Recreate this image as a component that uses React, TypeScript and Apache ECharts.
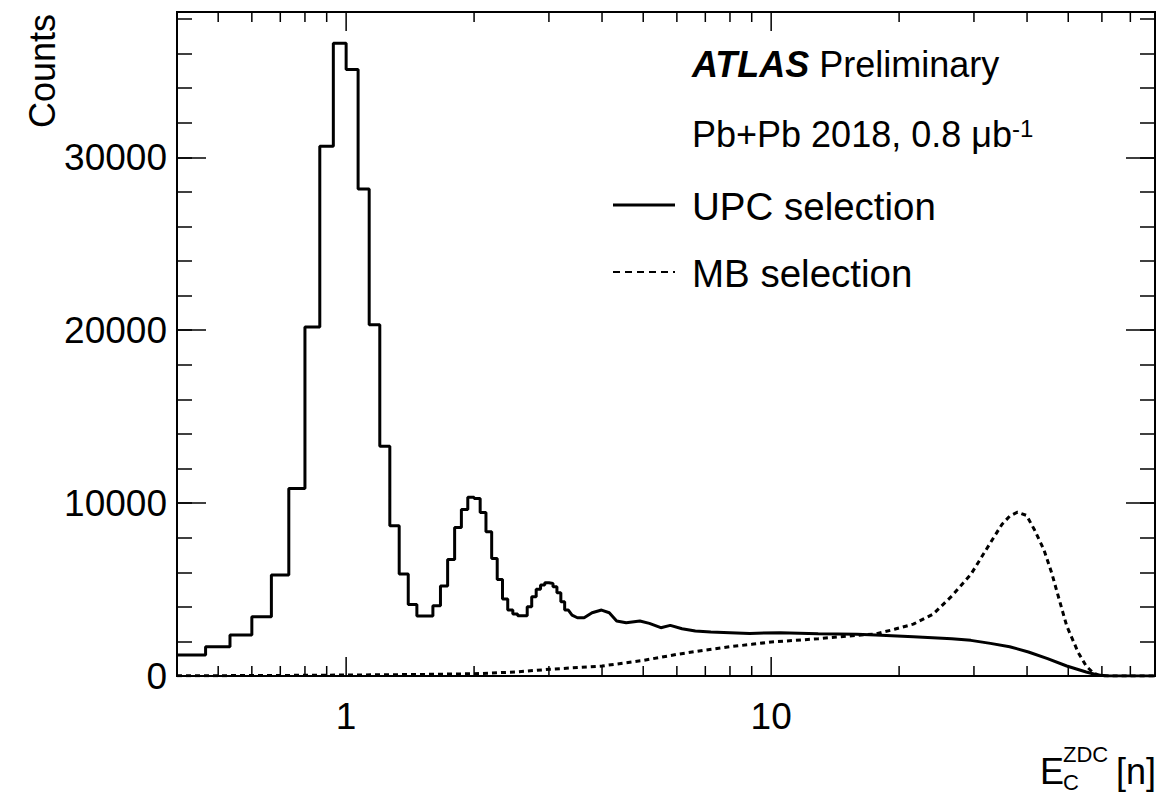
import { useEffect, useRef } from 'react';
import * as echarts from 'echarts';

const X_MIN = 0.4;
const X_MAX = 80;
const Y_MAX = 38400;
const FONT = '"Liberation Sans", Arial, Helvetica, sans-serif';

// UPC selection: coarse histogram bins (left edges + last right edge)
const upcBinEdges = [
  0.4, 0.467, 0.533, 0.6, 0.667, 0.733, 0.8, 0.867, 0.933, 1.0,
  1.067, 1.133, 1.2, 1.267, 1.333, 1.4, 1.467, 1.533, 1.6, 1.667,
  1.733, 1.8, 1.867, 1.933, 2.0, 2.067, 2.133, 2.2, 2.267, 2.333,
  2.4, 2.467, 2.533, 2.6, 2.667, 2.733, 2.8, 2.867, 2.933, 3.0,
  3.067, 3.133, 3.2, 3.267, 3.333,
];
const upcBinCounts = [
  1213, 1695, 2369, 3427, 5835, 10842, 20180, 30640, 36590, 35070,
  28170, 20320, 13290, 8685, 5893, 4140, 3466, 3466, 4061, 5200,
  6740, 8590, 9630, 10340, 10265, 9457, 8340, 6800, 5585, 4450,
  3813, 3580, 3485, 3485, 4005, 4580, 5010, 5257, 5390, 5350,
  5160, 4812, 4292, 3813,
];
// UPC selection: fine-binned region (read as points)
const upcTailX = [3.4, 3.5, 3.63, 3.79, 3.99, 4.16, 4.33, 4.56, 4.91, 5.17, 5.5, 5.79, 6.17, 6.63, 7.21, 8.0, 8.9, 10.5, 12.9, 15.9, 17.6, 21.6, 26.6, 29.5, 32.8, 36.4, 40.3, 44.7, 49.6, 55.1, 58.6, 62.5, 80];
const upcTailY = [3520, 3370, 3370, 3660, 3813, 3660, 3178, 3082, 3178, 3043, 2793, 2928, 2735, 2600, 2542, 2504, 2465, 2504, 2446, 2408, 2370, 2273, 2157, 2061, 1887, 1695, 1387, 1002, 578, 231, 58, 0, 0];

// MB selection
const mbX = [0.4, 0.6, 0.8, 1.0, 1.5, 2.0, 2.5, 3.0, 4.0, 5.0, 6.0, 7.0, 8.0, 9.0, 10, 12.9, 15.85, 17.6, 19.5, 21.6, 24, 26.6, 29.5, 32.8, 34.9, 36.4, 38, 39.9, 41.6, 43.8, 45.7, 47.6, 49.6, 52.8, 55.1, 57.4, 59.9, 80];
const mbY = [15, 25, 40, 55, 90, 130, 230, 385, 578, 900, 1250, 1500, 1695, 1830, 1965, 2157, 2350, 2430, 2700, 3000, 3563, 4622, 5874, 7704, 8763, 9245, 9476, 9283, 8474, 7319, 5971, 4430, 2889, 1348, 578, 154, 0, 0];

const xMajorTicks = [1, 10];
const xMinorTicks = [0.5, 0.6, 0.7, 0.8, 0.9, 2, 3, 4, 5, 6, 7, 8, 9, 20, 30, 40, 50, 60, 70];
const xTickLabels = ['1', '10'];

export default function App() {
  const ref = useRef<HTMLDivElement>(null);
  useEffect(() => {
    if (!ref.current) return;
    const chart = echarts.init(ref.current, null, { renderer: 'svg' });

    const upcData: number[][] = [];
    upcBinCounts.forEach((c, i) => {
      upcData.push([upcBinEdges[i], c], [upcBinEdges[i + 1], c]);
    });
    upcTailX.forEach((x, i) => upcData.push([x, upcTailY[i]]));
    const mbData = mbX.map((x, i) => [x, mbY[i]]);
    const tickData = [
      ...xMajorTicks.map((v) => [v, 1]),
      ...xMinorTicks.map((v) => [v, 0]),
    ];

    const yAxisBase = (position: 'left' | 'right', interval: number, len: number, labels: boolean) => ({
      type: 'value',
      position,
      min: 0,
      max: Y_MAX,
      interval,
      axisLine: { show: false },
      splitLine: { show: false },
      axisTick: { show: true, inside: true, length: len, lineStyle: { color: '#000', width: 1.5 } },
      axisLabel: {
        show: labels,
        showMaxLabel: false,
        color: '#000',
        fontSize: 37,
        fontFamily: FONT,
        margin: 10,
        formatter: (v: number) => String(Math.round(v)),
      },
    });

    chart.setOption({
      animation: false,
      backgroundColor: '#fff',
      grid: {
        left: 177,
        top: 12,
        right: 11,
        bottom: 120,
        show: true,
        borderColor: '#000',
        borderWidth: 2,
        backgroundColor: 'transparent',
        outerBoundsMode: 'none',
        containLabel: false,
      },
      xAxis: {
        type: 'log',
        logBase: 10,
        min: X_MIN,
        max: X_MAX,
        axisLine: { show: false },
        axisTick: { show: false },
        splitLine: { show: false },
        minorTick: { show: false },
        axisLabel: {
          color: '#000',
          fontSize: 37,
          fontFamily: FONT,
          margin: 22,
          showMinLabel: false,
          showMaxLabel: false,
          formatter: (v: number) => {
            for (let i = 0; i < xMajorTicks.length; i++) {
              if (Math.abs(v - xMajorTicks[i]) < 1e-6 * xMajorTicks[i]) return xTickLabels[i];
            }
            return '';
          },
        },
      },
      yAxis: [
        yAxisBase('left', 10000, 29, true),
        yAxisBase('left', 2000, 15, false),
        yAxisBase('right', 10000, 29, false),
        yAxisBase('right', 2000, 15, false),
      ],
      series: [
        {
          type: 'line',
          name: 'MB selection',
          data: mbData,
          showSymbol: false,
          symbol: 'none',
          lineStyle: { color: '#000', width: 3, type: [5, 4] },
          z: 3,
        },
        {
          type: 'line',
          name: 'UPC selection',
          data: upcData,
          showSymbol: false,
          symbol: 'none',
          lineStyle: { color: '#000', width: 3 },
          z: 4,
        },
        {
          type: 'custom',
          coordinateSystem: 'cartesian2d',
          silent: true,
          data: tickData,
          z: 5,
          renderItem: (_params: any, api: any) => {
            const v = api.value(0);
            const major = api.value(1) === 1;
            const b = api.coord([v, 0]);
            const t = api.coord([v, Y_MAX]);
            const len = major ? 19 : 10;
            const style = { stroke: '#000', lineWidth: 1.5 };
            return {
              type: 'group',
              children: [
                { type: 'line', shape: { x1: b[0], y1: b[1], x2: b[0], y2: b[1] - len }, style },
                { type: 'line', shape: { x1: t[0], y1: t[1], x2: t[0], y2: t[1] + len }, style },
              ],
            };
          },
        },
      ],
      graphic: [
        {
          type: 'text',
          x: 42,
          y: 14,
          rotation: Math.PI / 2,
          style: { text: 'Counts', fontSize: 36, fontFamily: FONT, fill: '#000', align: 'right', verticalAlign: 'middle' },
        },
        {
          type: 'text',
          x: 692,
          y: 64,
          style: {
            text: '{b|ATLAS}{n| Preliminary}',
            fill: '#000',
            verticalAlign: 'middle',
            rich: {
              b: { fontSize: 36, fontFamily: FONT, fontWeight: 'bold', fontStyle: 'italic', fill: '#000' },
              n: { fontSize: 36, fontFamily: FONT, fill: '#000' },
            },
          },
        },
        {
          type: 'text',
          x: 692,
          y: 134,
          style: {
            text: '{n|Pb+Pb 2018, 0.8 μb}{s|-1}',
            fill: '#000',
            verticalAlign: 'middle',
            rich: {
              n: { fontSize: 36, fontFamily: FONT, fill: '#000' },
              s: { fontSize: 24, fontFamily: FONT, fill: '#000', verticalAlign: 'top' },
            },
          },
        },
        {
          type: 'line',
          shape: { x1: 613, y1: 205, x2: 675, y2: 205 },
          style: { stroke: '#000', lineWidth: 3 },
        },
        {
          type: 'text',
          x: 692,
          y: 206,
          style: { text: 'UPC selection', fontSize: 38.5, fontFamily: FONT, fill: '#000', verticalAlign: 'middle' },
        },
        {
          type: 'line',
          shape: { x1: 613, y1: 272, x2: 675, y2: 272 },
          style: { stroke: '#000', lineWidth: 2, lineDash: [7, 5] },
        },
        {
          type: 'text',
          x: 692,
          y: 273,
          style: { text: 'MB selection', fontSize: 38.5, fontFamily: FONT, fill: '#000', verticalAlign: 'middle' },
        },
        {
          type: 'text',
          x: 1040,
          y: 771,
          style: { text: 'E', fontSize: 36, fontFamily: FONT, fill: '#000', verticalAlign: 'middle' },
        },
        {
          type: 'text',
          x: 1063,
          y: 754,
          style: { text: 'ZDC', fontSize: 22, fontFamily: FONT, fill: '#000', verticalAlign: 'middle' },
        },
        {
          type: 'text',
          x: 1063,
          y: 782,
          style: { text: 'C', fontSize: 22, fontFamily: FONT, fill: '#000', verticalAlign: 'middle' },
        },
        {
          type: 'text',
          x: 1116,
          y: 771,
          style: { text: '[n]', fontSize: 36, fontFamily: FONT, fill: '#000', verticalAlign: 'middle' },
        },
      ],
    });
    return () => chart.dispose();
  }, []);
  return <div ref={ref} style={{ position: 'absolute', left: 0, top: 0, width: 1166, height: 796 }} />;
}
